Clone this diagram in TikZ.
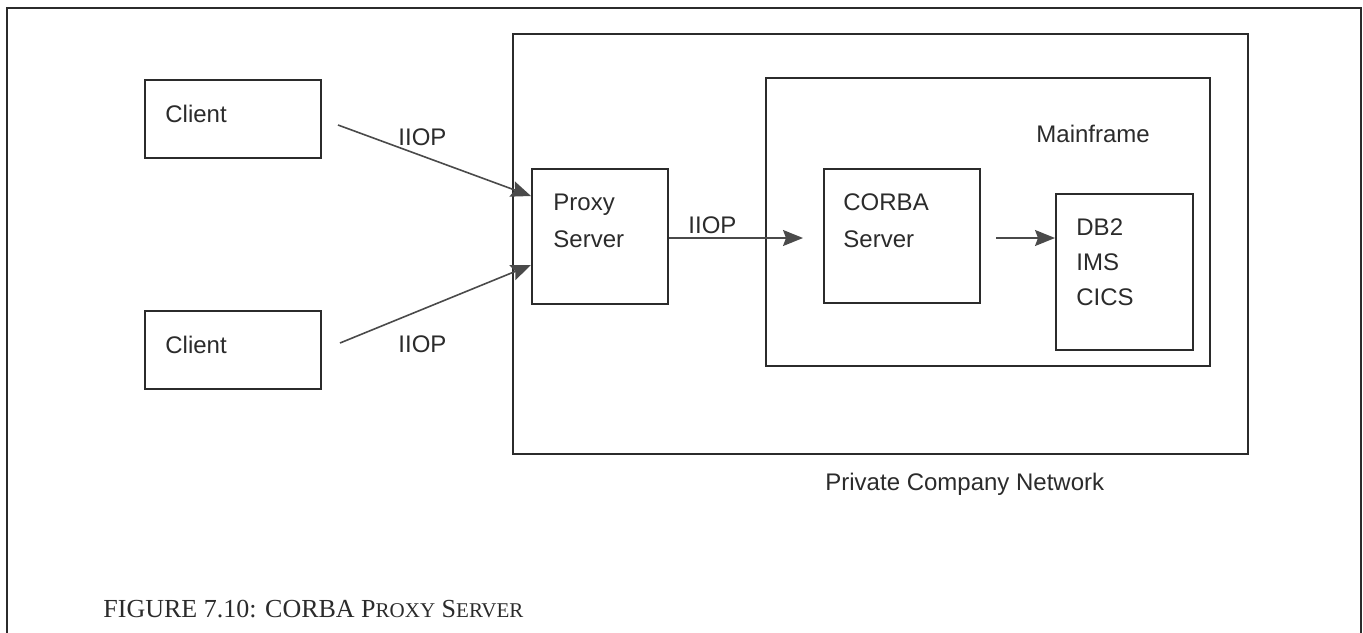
\documentclass[tikz,border=0pt]{standalone}
\usepackage{fontspec}
\setmainfont{Liberation Serif}
\setsansfont{Liberation Sans}
\usetikzlibrary{arrows.meta}
\definecolor{ink}{HTML}{2B2B2B}
\definecolor{arrowgray}{HTML}{4A4A4A}
\begin{document}
\begin{tikzpicture}[x=0.5pt,y=-0.5pt,
  box/.style={draw=ink, line width=0.9pt, rectangle, anchor=north west, inner sep=0pt},
  lbl/.style={font=\sffamily\fontsize{12}{14}\selectfont, text=ink, anchor=base west, inner sep=0pt},
  flow/.style={draw=arrowgray, line width=0.8pt, -{Stealth[length=10pt,width=8pt,inset=1.5pt]}}]
\useasboundingbox (0,0) rectangle (1363,632);
% page frame, open at the bottom
\begin{scope}
\clip (0,0) rectangle (1363,632);
\draw[ink, line width=0.9pt] (7,650) -- (7,8) -- (1361,8) -- (1361,650);
\end{scope}
% boxes
\node[box, minimum width=88pt, minimum height=39pt] (client1) at (144,79) {};
\node[box, minimum width=88pt, minimum height=39pt] (client2) at (144,310) {};
\node[box, minimum width=367.5pt, minimum height=210pt] (network) at (512,33) {};
\node[box, minimum width=68pt, minimum height=67.5pt] (proxy) at (531,168) {};
\node[box, minimum width=222pt, minimum height=144pt] (mainframe) at (765,77) {};
\node[box, minimum width=78pt, minimum height=67pt] (corba) at (823,168) {};
\node[box, minimum width=68.5pt, minimum height=78pt] (db) at (1055,193) {};
% texts
\node[lbl] (t1) at (165,122) {Client};
\node[lbl] (t2) at (165,353) {Client};
\node[lbl] (t3) at (553,210) {Proxy};
\node[lbl] (t4) at (553,247) {Server};
\node[lbl] (t5) at (843,210) {CORBA};
\node[lbl] (t6) at (843,247) {Server};
\node[lbl] (t7) at (1076,235) {DB2};
\node[lbl] (t8) at (1076,270) {IMS};
\node[lbl] (t9) at (1076,305) {CICS};
\node[lbl] (t10) at (1036,142) {Mainframe};
\node[lbl] (t11) at (398,145) {IIOP};
\node[lbl] (t12) at (398,352) {IIOP};
\node[lbl] (t13) at (688,233) {IIOP};
\node[lbl] (t14) at (825,490) {Private Company Network};
\node[anchor=base west, inner sep=0pt, text=ink, font=\fontsize{13}{15}\selectfont] (caption) at (103,617)
  {FIGURE 7.10: CORBA P{\fontsize{10.5}{12}\selectfont ROXY} S{\fontsize{10.5}{12}\selectfont ERVER}};
% connector end points
\coordinate (c1out) at (338,125);
\coordinate (c2out) at (340,343);
\coordinate (pin1) at (531,196);
\coordinate (pin2) at (531,265);
\coordinate (corbain) at (803,238);
\coordinate (corbaout) at (996,238);
\coordinate (dbin) at (1055,238);
% connectors
\draw[flow] (c1out) -- (pin1);
\draw[flow] (c2out) -- (pin2);
\draw[flow] (proxy.east |- corbain) -- (corbain);
\draw[flow] (corbaout) -- (dbin);
\end{tikzpicture}
\end{document}
